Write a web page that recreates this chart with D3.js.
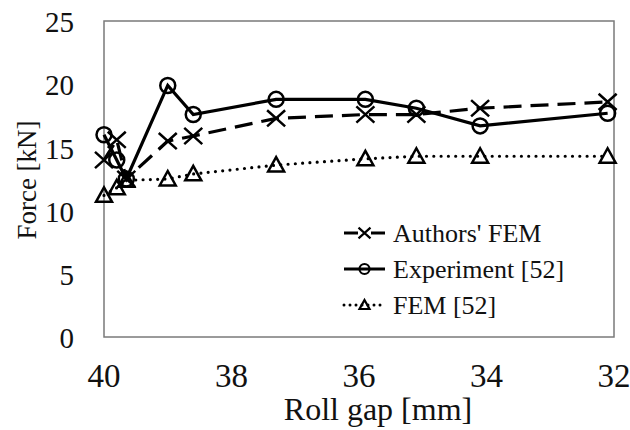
<!DOCTYPE html>
<html>
<head>
<meta charset="utf-8">
<script src="https://cdn.jsdelivr.net/npm/d3@7"></script>
<style>
  body { margin: 0; background: #fff; }
</style>
</head>
<body>
<script>
// roll gap positions (mm) and force values (kN)
var rollGap = [40, 39.8, 39.65, 39, 38.6, 37.3, 35.9, 35.1, 34.1, 32.1];
var authorsFEM = [14.0, 15.6, 12.5, 15.5, 15.9, 17.3, 17.6, 17.6, 18.1, 18.6];
var experiment = [16.0, 14.0, 12.5, 19.9, 17.6, 18.8, 18.8, 18.1, 16.7, 17.7];
var fem52 = [11.2, 11.8, 12.4, 12.5, 12.9, 13.6, 14.1, 14.3, 14.3, 14.3];
var xTicks = [40, 38, 36, 34, 32];
var yTicks = [0, 5, 10, 15, 20, 25];
var seriesNames = ["Authors' FEM", "Experiment [52]", "FEM [52]"];

const series = [
  { name: seriesNames[0], values: authorsFEM, dash: "18,9", legendDash: "14,13", cap: "butt", marker: "x" },
  { name: seriesNames[1], values: experiment, dash: null, legendDash: null, cap: "butt", marker: "circle" },
  { name: seriesNames[2], values: fem52, dash: "0,7.3", legendDash: "0,6", cap: "round", marker: "triangle" },
];

var width = 630, height = 430;
var plot = { left: 104, right: 614, top: 21, bottom: 337 };
var serif = "'Liberation Serif', 'DejaVu Serif', 'Times New Roman', Times, serif";

var svg = d3
  .select("body")
  .append("svg")
  .attr("width", width)
  .attr("height", height)
  .attr("font-family", serif);

var x = d3.scaleLinear().domain([40, 32]).range([plot.left, plot.right]);
var y = d3.scaleLinear().domain([0, 25]).range([plot.bottom, plot.top]);

// frame
svg
  .append("rect")
  .attr("x", plot.left)
  .attr("y", plot.top)
  .attr("width", plot.right - plot.left)
  .attr("height", plot.bottom - plot.top)
  .attr("fill", "none")
  .attr("stroke", "#7a7a7a")
  .attr("stroke-width", 1.5);

// y tick labels
svg
  .selectAll("text.ytick")
  .data(yTicks)
  .enter()
  .append("text")
  .attr("class", "ytick")
  .attr("x", 74)
  .attr("y", (d) => y(d) + 1)
  .attr("dy", "0.35em")
  .attr("text-anchor", "end")
  .attr("font-size", 29)
  .attr("fill", "#111")
  .text((d) => d);

// x tick labels
svg
  .selectAll("text.xtick")
  .data(xTicks)
  .enter()
  .append("text")
  .attr("class", "xtick")
  .attr("x", (d) => x(d))
  .attr("y", 387)
  .attr("text-anchor", "middle")
  .attr("font-size", 33)
  .attr("fill", "#111")
  .text((d) => d);

// axis titles
svg
  .append("text")
  .attr("x", 378)
  .attr("y", 420)
  .attr("text-anchor", "middle")
  .attr("font-size", 32)
  .attr("fill", "#111")
  .text("Roll gap [mm]");

svg
  .append("text")
  .attr("transform", "translate(36,180) rotate(-90)")
  .attr("text-anchor", "middle")
  .attr("font-size", 27)
  .attr("fill", "#111")
  .text("Force [kN]");

const drawMarker = (g, type, cx, cy, s, sw) => {
  if (type === "x") {
    g.append("path")
      .attr("d", `M${cx - s},${cy - s * 0.9}L${cx + s},${cy + s * 0.9}M${cx - s},${cy + s * 0.9}L${cx + s},${cy - s * 0.9}`)
      .attr("stroke", "#000")
      .attr("stroke-width", sw)
      .attr("fill", "none");
  } else if (type === "circle") {
    g.append("circle")
      .attr("cx", cx)
      .attr("cy", cy)
      .attr("r", s)
      .attr("stroke", "#000")
      .attr("stroke-width", sw)
      .attr("fill", "none");
  } else {
    g.append("path")
      .attr("d", `M${cx},${cy - s}L${cx + s},${cy + s * 0.8}L${cx - s},${cy + s * 0.8}Z`)
      .attr("stroke", "#000")
      .attr("stroke-width", sw)
      .attr("fill", "none");
  }
};

var line = d3
  .line()
  .x((d) => x(d[0]))
  .y((d) => y(d[1]));

// series lines + markers
series.forEach((s) => {
  var pts = rollGap.map((g, i) => [g, s.values[i]]);
  var g = svg.append("g").attr("class", "series");
  g.append("path")
    .datum(pts)
    .attr("d", line)
    .attr("fill", "none")
    .attr("stroke", "#000")
    .attr("stroke-width", 3.2)
    .attr("stroke-linecap", s.cap)
    .attr("stroke-dasharray", s.dash);
  var size = s.marker === "x" ? 9 : s.marker === "circle" ? 7.5 : 8;
  pts.forEach((p) => drawMarker(g, s.marker, x(p[0]), y(p[1]), size, 2.5));
});

// legend
var legend = svg.append("g").attr("class", "legend");
series.forEach((s, i) => {
  var cy = 233 + i * 36;
  legend
    .append("line")
    .attr("x1", 344)
    .attr("x2", 385)
    .attr("y1", cy)
    .attr("y2", cy)
    .attr("stroke", "#000")
    .attr("stroke-width", 3)
    .attr("stroke-linecap", s.cap)
    .attr("stroke-dasharray", s.legendDash);
  drawMarker(legend, s.marker, 364.5, cy, s.marker === "x" ? 6 : 5, 2.2);
  legend
    .append("text")
    .attr("x", 393)
    .attr("y", cy + 9)
    .attr("font-size", 26)
    .attr("fill", "#111")
    .text(s.name);
});
</script>
</body>
</html>
